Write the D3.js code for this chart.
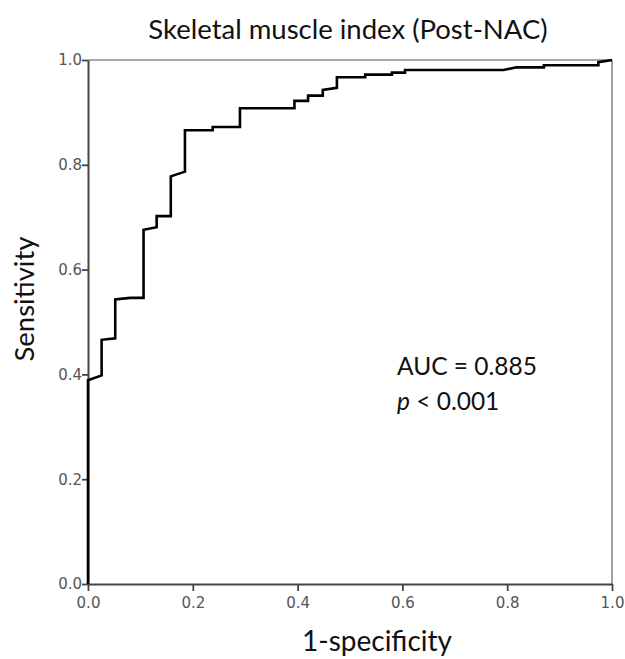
<!DOCTYPE html>
<html>
<head>
<meta charset="utf-8">
<script src="https://cdn.jsdelivr.net/npm/d3@7"></script>
<style>
  body { margin: 0; background: #fff; }
  svg { display: block; }
</style>
</head>
<body>
<div id="chart"></div>
<script>
// ROC curve points
var fpr = [0, 0, 0.026, 0.026, 0.052, 0.052, 0.080, 0.106, 0.106, 0.131, 0.131, 0.158, 0.158, 0.185, 0.185,
  0.238, 0.238, 0.290, 0.290, 0.394, 0.394, 0.420, 0.420, 0.448, 0.448, 0.475, 0.475, 0.529, 0.529,
  0.580, 0.580, 0.605, 0.605, 0.793, 0.818, 0.870, 0.870, 0.974, 0.974, 1];
var tpr = [0, 0.389, 0.398, 0.466, 0.469, 0.543, 0.546, 0.546, 0.676, 0.681, 0.702, 0.702, 0.778, 0.787, 0.866,
  0.866, 0.872, 0.872, 0.908, 0.908, 0.922, 0.922, 0.932, 0.932, 0.943, 0.947, 0.967, 0.967, 0.972,
  0.972, 0.976, 0.976, 0.981, 0.981, 0.986, 0.986, 0.990, 0.990, 0.996, 1];
var ticks = [0, 0.2, 0.4, 0.6, 0.8, 1.0];

var titleText = 'Skeletal muscle index (Post-NAC)';
var xLabel = '1-specificity';
var yLabel = 'Sensitivity';

var width = 625,
  height = 659;

var margin = {top: 60, left: 88, right: 13, bottom: 75};

var svg = d3.select('#chart')
  .append('svg')
  .attr('width', width)
  .attr('height', height);

var x = d3.scaleLinear().domain([0, 1]).range([margin.left, width - margin.right]);
var y = d3.scaleLinear().domain([0, 1]).range([height - margin.bottom, margin.top]);

//Frame on top and right
svg.append('line')
  .attr('x1', x(0)).attr('x2', x(1))
  .attr('y1', y(1)).attr('y2', y(1))
  .attr('stroke', '#8a8a8a').attr('stroke-width', 1.6);
svg.append('line')
  .attr('x1', x(1)).attr('x2', x(1))
  .attr('y1', y(0)).attr('y2', y(1))
  .attr('stroke', '#8a8a8a').attr('stroke-width', 1.6);

//Axes
var xAxis = svg.append('g')
  .attr('transform', 'translate(0,' + y(0) + ')')
  .call(d3.axisBottom(x).tickValues(ticks).tickFormat(d3.format('.1f')).tickSize(7).tickSizeOuter(0));
var yAxis = svg.append('g')
  .attr('transform', 'translate(' + x(0) + ',0)')
  .call(d3.axisLeft(y).tickValues(ticks).tickFormat(d3.format('.1f')).tickSize(6).tickSizeOuter(0));

[xAxis, yAxis].forEach(function(g) {
  g.select('.domain').attr('stroke', '#444').attr('stroke-width', 2);
  g.selectAll('.tick line').attr('stroke', '#444').attr('stroke-width', 1.8);
  g.selectAll('.tick text')
    .attr('fill', '#555')
    .style('font-family', 'DejaVu Sans')
    .style('font-size', '15px');
});
xAxis.selectAll('.tick text').attr('y', 10).attr('dy', '0.9em');
yAxis.selectAll('.tick text').attr('x', -6);

//The ROC step line
var points = fpr.map(function(d, i) { return [d, tpr[i]]; });
var line = d3.line()
  .x(function(d) { return x(d[0]); })
  .y(function(d) { return y(d[1]); });

svg.append('path')
  .datum(points)
  .attr('d', line)
  .attr('fill', 'none')
  .attr('stroke', '#000')
  .attr('stroke-width', 2.6)
  .attr('stroke-linejoin', 'miter');

//Texts
var font = 'Lato, "Open Sans", sans-serif';

svg.append('text')
  .attr('x', 348).attr('y', 39)
  .attr('text-anchor', 'middle')
  .style('font-family', font).style('font-size', '27.5px').attr('fill', '#111')
  .text(titleText);

svg.append('text')
  .attr('x', 377).attr('y', 651)
  .attr('text-anchor', 'middle')
  .style('font-family', font).style('font-size', '28px').attr('fill', '#111')
  .text(xLabel);

svg.append('text')
  .attr('transform', 'translate(34,299) rotate(-90)')
  .attr('text-anchor', 'middle')
  .style('font-family', font).style('font-size', '27.5px').attr('fill', '#111')
  .text(yLabel);

svg.append('text')
  .attr('x', 397).attr('y', 375)
  .style('font-family', font).style('font-size', '24.5px').attr('fill', '#111')
  .text('AUC = 0.885');

var pText = svg.append('text')
  .attr('x', 397).attr('y', 410)
  .style('font-family', font).style('font-size', '24.5px').attr('fill', '#111');
pText.append('tspan').style('font-style', 'italic').text('p');
pText.append('tspan').text(' < 0.001');
</script>
</body>
</html>
